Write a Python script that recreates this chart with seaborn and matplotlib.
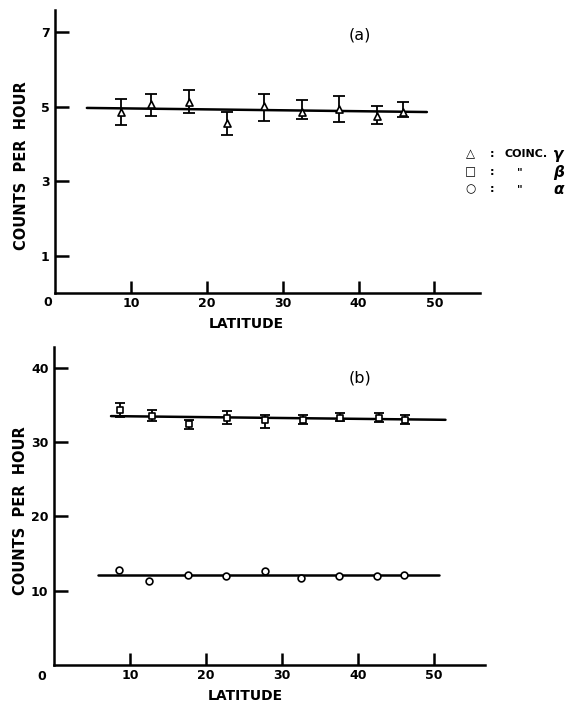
import matplotlib
matplotlib.use("Agg")
import matplotlib.pyplot as plt
import seaborn as sns
import pandas as pd
import numpy as np

# ---------------- data ----------------
lat_a = [8.7, 12.7, 17.6, 22.7, 27.5, 32.5, 37.4, 42.4, 45.9]
gamma = [4.85, 5.07, 5.13, 4.56, 5.03, 4.85, 4.94, 4.74, 4.87]
gamma_lo = [4.50, 4.76, 4.83, 4.23, 4.63, 4.67, 4.58, 4.54, 4.72]
gamma_hi = [5.20, 5.35, 5.46, 4.85, 5.35, 5.19, 5.30, 5.03, 5.12]
gamma_fit_x = [4.2, 49.0]
gamma_fit_y = [4.97, 4.86]

lat_b = [8.7, 12.85, 17.8, 22.7, 27.8, 32.7, 37.6, 42.7, 46.2]
beta = [34.3, 33.5, 32.4, 33.3, 33.0, 33.0, 33.3, 33.3, 33.0]
beta_lo = [33.4, 32.8, 31.7, 32.5, 31.9, 32.4, 32.8, 32.7, 32.4]
beta_hi = [35.3, 34.3, 33.0, 34.2, 33.7, 33.7, 33.9, 33.9, 33.6]
beta_fit_x = [7.5, 51.5]
beta_fit_y = [33.5, 33.0]

lat_c = [8.6, 12.55, 17.6, 22.6, 27.8, 32.5, 37.5, 42.5, 46.0]
alpha = [12.8, 11.3, 12.1, 12.0, 12.7, 11.7, 12.0, 12.0, 12.1]
alpha_fit_x = [5.85, 50.6]
alpha_fit_y = [12.1, 12.1]

xticks = [10, 20, 30, 40, 50]
yticks_a = [1, 3, 5, 7]
yticks_b = [10, 20, 30, 40]

# ---------------- style ----------------
sns.set_theme(style="ticks")
plt.rcParams['font.family'] = ['DejaVu Sans']
plt.rcParams['font.weight'] = 'bold'
plt.rcParams['text.color'] = 'black'
plt.rcParams['axes.labelcolor'] = 'black'
plt.rcParams['xtick.color'] = 'black'
plt.rcParams['ytick.color'] = 'black'

W, H = 565, 702
fig = plt.figure(figsize=(W / 100, H / 100), dpi=100)


def px_axes(l, t, r, b):
    return fig.add_axes([l / W, 1 - b / H, (r - l) / W, (b - t) / H])


def style(ax, yticks):
    for s in ['top', 'right']:
        ax.spines[s].set_visible(False)
    for s in ['left', 'bottom']:
        ax.spines[s].set_linewidth(1.8)
        ax.spines[s].set_color('black')
    ax.set_xticks(xticks)
    ax.set_yticks(yticks)
    ax.tick_params(direction='in', length=9, width=1.8, colors='black',
                   labelcolor='black', labelsize=9, pad=3)
    ax.tick_params(axis='y', length=10, pad=4)
    for lab in ax.get_xticklabels() + ax.get_yticklabels():
        lab.set_fontweight('bold')
    ax.set_facecolor('white')


def draw_series(ax, x, y, lo, hi, fx, fy, marker, ms, cap):
    sns.lineplot(x=fx, y=fy, ax=ax, color='black', lw=1.8, zorder=1)
    if lo is not None:
        yerr = [np.array(y) - np.array(lo), np.array(hi) - np.array(y)]
        ax.errorbar(x, y, yerr=yerr, fmt='none', ecolor='black',
                    elinewidth=1.3, capsize=cap, capthick=1.3, zorder=2)
    sns.scatterplot(x=x, y=y, ax=ax, marker=marker, s=ms, facecolor='white',
                    edgecolor='black', linewidth=1.2, zorder=3)


# ---------------- panel (a) ----------------
ax1 = px_axes(55, 10, 480, 293)
draw_series(ax1, lat_a, gamma, gamma_lo, gamma_hi, gamma_fit_x, gamma_fit_y,
            '^', 26, 4)
ax1.set_xlim(0, 56)
ax1.set_ylim(0, 7.6)
style(ax1, yticks_a)
ax1.set_xlabel('LATITUDE', fontsize=10, fontweight='bold')
ax1.xaxis.set_label_coords(0.45, -0.085)
ax1.set_ylabel('COUNTS  PER  HOUR', fontsize=10.5, fontweight='bold')
ax1.yaxis.set_label_coords(-0.062, 0.45)

# ---------------- panel (b) ----------------
ax2 = px_axes(54, 347, 485, 665)
draw_series(ax2, lat_b, beta, beta_lo, beta_hi, beta_fit_x, beta_fit_y,
            's', 22, 3.5)
draw_series(ax2, lat_c, alpha, None, None, alpha_fit_x, alpha_fit_y,
            'o', 24, 0)
ax2.set_xlim(0, 56.7)
ax2.set_ylim(0, 42.8)
style(ax2, yticks_b)
ax2.set_xlabel('LATITUDE', fontsize=10, fontweight='bold')
ax2.xaxis.set_label_coords(0.445, -0.075)
ax2.set_ylabel('COUNTS  PER  HOUR', fontsize=10.5, fontweight='bold')
ax2.yaxis.set_label_coords(-0.06, 0.485)


def ftext(x, y, s, **kw):
    kw.setdefault('ha', 'center')
    kw.setdefault('va', 'center')
    kw.setdefault('fontweight', 'bold')
    fig.text(x / W, 1 - y / H, s, **kw)


# corner zeros
ftext(48, 303, '0', fontsize=9)
ftext(42, 677, '0', fontsize=9)

# panel titles
ftext(360, 35, '(a)', fontsize=11.5, fontweight='normal')
ftext(360, 378, '(b)', fontsize=11.5, fontweight='normal')

# legend
rows = [(154, '△', 'COINC.', 'γ'),
        (172, '□', '"', 'β'),
        (189, '○', '"', 'α')]
for y, m, t, g in rows:
    ftext(470, y, m, fontsize=8.5, fontweight='bold')
    ftext(492, y, ':', fontsize=8)
    if t == 'COINC.':
        ftext(505, y, t, fontsize=8, ha='left')
    else:
        ftext(520, y, t, fontsize=8)
    ftext(553, y, g, fontsize=11, ha='left', fontstyle='italic',
          fontweight='bold')

fig.savefig('out.png', dpi=100, facecolor='white')
